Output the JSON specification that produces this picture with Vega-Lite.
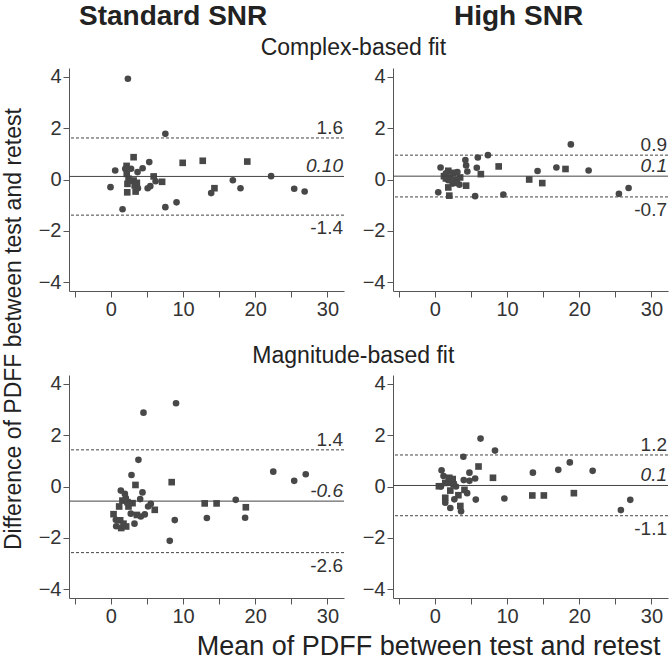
{
  "$schema": "https://vega.github.io/schema/vega-lite/v6.json",
  "background": "white",
  "padding": {"left": 3, "top": 2, "right": 2, "bottom": 0},
  "config": {
    "font": "Liberation Sans",
    "view": {"stroke": null},
    "axis": {"grid": false, "title": null, "labelFontSize": 20, "labelColor": "#333", "labelFont": "Liberation Sans", "tickColor": "#555", "domainColor": "#555", "tickSize": 6, "labelPadding": 2, "labelOverlap": false, "labelFlush": false},
    "title": {"color": "#222", "font": "Liberation Sans", "fontWeight": "normal"}
  },
  "datasets": {
    "pts": [
      {"p":"TL","s":"c","m":2.36,"d":3.93},{"p":"TL","s":"c","m":7.55,"d":1.78},{"p":"TL","s":"s","m":3.15,"d":0.87},{"p":"TL","s":"c","m":5.32,"d":0.68},{"p":"TL","s":"s","m":9.95,"d":0.65},{"p":"TL","s":"s","m":12.73,"d":0.73},{"p":"TL","s":"s","m":18.9,"d":0.70},{"p":"TL","s":"c","m":0.6,"d":0.35},{"p":"TL","s":"s","m":2.18,"d":0.53},{"p":"TL","s":"c","m":2.0,"d":0.42},{"p":"TL","s":"c","m":2.8,"d":0.42},{"p":"TL","s":"c","m":4.4,"d":0.44},{"p":"TL","s":"c","m":3.7,"d":0.29},{"p":"TL","s":"s","m":2.2,"d":0.22},{"p":"TL","s":"s","m":5.93,"d":0.12},{"p":"TL","s":"c","m":22.2,"d":0.13},{"p":"TL","s":"c","m":16.9,"d":-0.03},{"p":"TL","s":"s","m":7.1,"d":-0.09},{"p":"TL","s":"c","m":6.2,"d":-0.07},{"p":"TL","s":"s","m":2.45,"d":0.03},{"p":"TL","s":"s","m":3.15,"d":-0.04},{"p":"TL","s":"s","m":3.6,"d":-0.13},{"p":"TL","s":"s","m":2.3,"d":-0.17},{"p":"TL","s":"c","m":-0.05,"d":-0.30},{"p":"TL","s":"c","m":3.75,"d":-0.34},{"p":"TL","s":"c","m":5.1,"d":-0.34},{"p":"TL","s":"c","m":5.46,"d":-0.26},{"p":"TL","s":"s","m":14.35,"d":-0.34},{"p":"TL","s":"c","m":17.96,"d":-0.34},{"p":"TL","s":"c","m":25.4,"d":-0.36},{"p":"TL","s":"c","m":26.85,"d":-0.47},{"p":"TL","s":"c","m":13.9,"d":-0.53},{"p":"TL","s":"s","m":2.27,"d":-0.50},{"p":"TL","s":"s","m":3.43,"d":-0.47},{"p":"TL","s":"c","m":9.1,"d":-0.89},{"p":"TL","s":"c","m":7.55,"d":-1.08},{"p":"TL","s":"c","m":1.62,"d":-1.16},{"p":"TL","s":"s","m":3.3,"d":-0.23},{"p":"TL","s":"c","m":2.7,"d":-0.04},
      {"p":"TR","s":"c","m":18.84,"d":1.37},{"p":"TR","s":"c","m":7.35,"d":0.95},{"p":"TR","s":"c","m":5.95,"d":0.86},{"p":"TR","s":"c","m":4.23,"d":0.76},{"p":"TR","s":"c","m":4.33,"d":0.55},{"p":"TR","s":"c","m":4.5,"d":0.31},{"p":"TR","s":"c","m":5.81,"d":0.46},{"p":"TR","s":"s","m":6.37,"d":0.21},{"p":"TR","s":"s","m":8.84,"d":0.51},{"p":"TR","s":"c","m":14.23,"d":0.33},{"p":"TR","s":"c","m":16.84,"d":0.47},{"p":"TR","s":"s","m":18.1,"d":0.41},{"p":"TR","s":"c","m":21.3,"d":0.35},{"p":"TR","s":"s","m":13.07,"d":0.0},{"p":"TR","s":"s","m":14.88,"d":-0.14},{"p":"TR","s":"c","m":0.79,"d":0.47},{"p":"TR","s":"c","m":0.47,"d":-0.50},{"p":"TR","s":"s","m":1.86,"d":-0.31},{"p":"TR","s":"s","m":2.0,"d":-0.63},{"p":"TR","s":"c","m":5.58,"d":-0.65},{"p":"TR","s":"c","m":9.49,"d":-0.59},{"p":"TR","s":"c","m":25.5,"d":-0.56},{"p":"TR","s":"c","m":26.84,"d":-0.33},{"p":"TR","s":"s","m":4.33,"d":-0.24},{"p":"TR","s":"s","m":1.26,"d":0.13},{"p":"TR","s":"s","m":1.86,"d":0.34},{"p":"TR","s":"c","m":1.53,"d":0.24},{"p":"TR","s":"s","m":2.56,"d":0.26},{"p":"TR","s":"c","m":3.12,"d":0.29},{"p":"TR","s":"s","m":2.1,"d":0.08},{"p":"TR","s":"c","m":2.8,"d":0.0},{"p":"TR","s":"s","m":3.5,"d":0.08},{"p":"TR","s":"c","m":1.86,"d":-0.03},{"p":"TR","s":"s","m":3.02,"d":-0.13},{"p":"TR","s":"c","m":3.4,"d":-0.2},{"p":"TR","s":"c","m":2.47,"d":-0.16},{"p":"TR","s":"s","m":1.53,"d":0.04},
      {"p":"BL","s":"c","m":9.03,"d":3.25},{"p":"BL","s":"c","m":4.52,"d":2.88},{"p":"BL","s":"c","m":3.82,"d":1.04},{"p":"BL","s":"c","m":2.86,"d":0.45},{"p":"BL","s":"s","m":3.41,"d":0.06},{"p":"BL","s":"s","m":8.43,"d":0.17},{"p":"BL","s":"c","m":22.5,"d":0.58},{"p":"BL","s":"c","m":25.4,"d":0.22},{"p":"BL","s":"c","m":27.0,"d":0.48},{"p":"BL","s":"c","m":1.38,"d":-0.16},{"p":"BL","s":"c","m":1.94,"d":-0.29},{"p":"BL","s":"c","m":4.38,"d":-0.23},{"p":"BL","s":"c","m":4.06,"d":-0.49},{"p":"BL","s":"c","m":17.3,"d":-0.52},{"p":"BL","s":"s","m":13.0,"d":-0.66},{"p":"BL","s":"s","m":14.65,"d":-0.66},{"p":"BL","s":"s","m":18.7,"d":-0.81},{"p":"BL","s":"c","m":5.53,"d":-0.68},{"p":"BL","s":"c","m":5.16,"d":-0.78},{"p":"BL","s":"s","m":6.08,"d":-0.91},{"p":"BL","s":"s","m":3.0,"d":-0.65},{"p":"BL","s":"s","m":2.44,"d":-0.78},{"p":"BL","s":"s","m":1.15,"d":-0.78},{"p":"BL","s":"s","m":1.6,"d":-0.55},{"p":"BL","s":"s","m":2.3,"d":-0.61},{"p":"BL","s":"c","m":2.07,"d":-0.45},{"p":"BL","s":"s","m":0.37,"d":-1.08},{"p":"BL","s":"s","m":3.6,"d":-1.11},{"p":"BL","s":"c","m":4.15,"d":-1.17},{"p":"BL","s":"c","m":4.7,"d":-1.09},{"p":"BL","s":"c","m":0.69,"d":-1.3},{"p":"BL","s":"s","m":1.29,"d":-1.32},{"p":"BL","s":"c","m":0.74,"d":-1.55},{"p":"BL","s":"s","m":1.43,"d":-1.62},{"p":"BL","s":"s","m":2.12,"d":-1.56},{"p":"BL","s":"c","m":3.27,"d":-1.45},{"p":"BL","s":"c","m":8.85,"d":-1.31},{"p":"BL","s":"c","m":13.3,"d":-1.23},{"p":"BL","s":"c","m":18.6,"d":-1.22},{"p":"BL","s":"c","m":8.16,"d":-2.12},{"p":"BL","s":"s","m":1.75,"d":-1.45},{"p":"BL","s":"c","m":2.76,"d":-1.06},
      {"p":"BR","s":"c","m":6.33,"d":1.87},{"p":"BR","s":"c","m":8.33,"d":1.40},{"p":"BR","s":"c","m":3.95,"d":1.16},{"p":"BR","s":"s","m":6.05,"d":0.78},{"p":"BR","s":"c","m":4.79,"d":0.54},{"p":"BR","s":"s","m":8.05,"d":0.34},{"p":"BR","s":"c","m":5.58,"d":0.31},{"p":"BR","s":"c","m":4.79,"d":0.22},{"p":"BR","s":"c","m":4.0,"d":0.25},{"p":"BR","s":"c","m":13.58,"d":0.54},{"p":"BR","s":"c","m":17.1,"d":0.65},{"p":"BR","s":"c","m":18.7,"d":0.94},{"p":"BR","s":"c","m":21.86,"d":0.61},{"p":"BR","s":"c","m":0.93,"d":0.63},{"p":"BR","s":"c","m":1.2,"d":0.41},{"p":"BR","s":"s","m":0.56,"d":0.01},{"p":"BR","s":"s","m":1.44,"d":0.14},{"p":"BR","s":"s","m":1.9,"d":0.17},{"p":"BR","s":"s","m":2.47,"d":0.29},{"p":"BR","s":"s","m":2.6,"d":0.08},{"p":"BR","s":"c","m":2.93,"d":0.0},{"p":"BR","s":"s","m":2.14,"d":-0.16},{"p":"BR","s":"s","m":3.26,"d":-0.34},{"p":"BR","s":"c","m":2.7,"d":-0.5},{"p":"BR","s":"s","m":1.44,"d":-0.44},{"p":"BR","s":"c","m":1.44,"d":-0.63},{"p":"BR","s":"c","m":2.14,"d":-0.84},{"p":"BR","s":"s","m":3.53,"d":-0.76},{"p":"BR","s":"c","m":3.63,"d":-0.97},{"p":"BR","s":"s","m":4.1,"d":-0.13},{"p":"BR","s":"c","m":4.47,"d":-0.26},{"p":"BR","s":"c","m":5.67,"d":-0.51},{"p":"BR","s":"c","m":9.63,"d":-0.47},{"p":"BR","s":"s","m":13.5,"d":-0.35},{"p":"BR","s":"s","m":15.1,"d":-0.35},{"p":"BR","s":"s","m":19.26,"d":-0.26},{"p":"BR","s":"c","m":25.77,"d":-0.92},{"p":"BR","s":"c","m":27.07,"d":-0.52},{"p":"BR","s":"s","m":2.0,"d":0.34},{"p":"BR","s":"c","m":0.84,"d":0.0}
    ],
    "lines": [
      {"p":"TL","k":"upper","d":1.62,"lab":"1.6"},{"p":"TL","k":"mean","d":0.12,"lab":"0.10"},{"p":"TL","k":"lower","d":-1.39,"lab":"-1.4"},
      {"p":"TR","k":"upper","d":0.95,"lab":"0.9"},{"p":"TR","k":"mean","d":0.13,"lab":"0.1"},{"p":"TR","k":"lower","d":-0.68,"lab":"-0.7"},
      {"p":"BL","k":"upper","d":1.43,"lab":"1.4"},{"p":"BL","k":"mean","d":-0.57,"lab":"-0.6"},{"p":"BL","k":"lower","d":-2.58,"lab":"-2.6"},
      {"p":"BR","k":"upper","d":1.23,"lab":"1.2"},{"p":"BR","k":"mean","d":0.04,"lab":"0.1"},{"p":"BR","k":"lower","d":-1.14,"lab":"-1.1"}
    ]
  },
  "title": {"text": "Difference of PDFF between test and retest", "orient": "left", "fontSize": 23, "offset": 12, "dx": 110},
  "spacing": 25,
  "vconcat": [
    {
      "title": {"text": "Complex-based fit", "fontSize": 23, "offset": -57, "anchor": "middle"},
      "spacing": 17,
      "hconcat": [
        {
          "width": 275, "height": 223,
          "title": {"text": "Standard SNR", "anchor": "start", "frame": "group", "dx": 10, "offset": 36, "fontSize": 28, "fontWeight": "bold"},
          "layer": [
            {"data": {"name": "pts"}, "transform": [{"filter": "datum.p === 'TL'"}], "mark": {"type": "point", "filled": true, "opacity": 1, "size": 44, "color": "#484848"},
             "encoding": {"x": {"field": "m", "type": "quantitative", "scale": {"domain": [-5.8, 32.3], "nice": false, "zero": false}, "axis": {"values": [-5,0,5,10,15,20,25,30], "labelExpr": "datum.value % 10 === 0 ? datum.label : ''"}},
                          "y": {"field": "d", "type": "quantitative", "scale": {"domain": [-4.35, 4.35], "nice": false, "zero": false}, "axis": {"values": [-4,-3,-2,-1,0,1,2,3,4], "labelExpr": "datum.value % 2 === 0 ? datum.label : ''"}},
                          "shape": {"field": "s", "type": "nominal", "scale": {"domain": ["c","s"], "range": ["circle","square"]}, "legend": null}}},
            {"data": {"name": "lines"}, "transform": [{"filter": "datum.p === 'TL'"}], "mark": {"type": "rule", "color": "#444", "strokeWidth": 1},
             "encoding": {"y": {"field": "d", "type": "quantitative"}, "strokeDash": {"field": "k", "type": "nominal", "scale": {"domain": ["lower","mean","upper"], "range": [[3,2],[1,0],[3,2]]}, "legend": null}}},
            {"data": {"name": "lines"}, "transform": [{"filter": "datum.p === 'TL' && datum.k === 'upper'"}], "mark": {"type": "text", "align": "right", "baseline": "alphabetic", "dx": -1, "dy": -4, "fontSize": 19, "color": "#333"},
             "encoding": {"x": {"value": "width"}, "y": {"field": "d", "type": "quantitative"}, "text": {"field": "lab"}}},
            {"data": {"name": "lines"}, "transform": [{"filter": "datum.p === 'TL' && datum.k === 'mean'"}], "mark": {"type": "text", "align": "right", "baseline": "alphabetic", "dx": -1, "dy": -4, "fontSize": 19, "fontStyle": "italic", "color": "#333"},
             "encoding": {"x": {"value": "width"}, "y": {"field": "d", "type": "quantitative"}, "text": {"field": "lab"}}},
            {"data": {"name": "lines"}, "transform": [{"filter": "datum.p === 'TL' && datum.k === 'lower'"}], "mark": {"type": "text", "align": "right", "baseline": "top", "dx": -1, "dy": 4, "fontSize": 19, "color": "#333"},
             "encoding": {"x": {"value": "width"}, "y": {"field": "d", "type": "quantitative"}, "text": {"field": "lab"}}}
          ]
        },
        {
          "width": 275, "height": 223,
          "title": {"text": "High SNR", "anchor": "start", "frame": "group", "dx": 61, "offset": 36, "fontSize": 28, "fontWeight": "bold"},
          "layer": [
            {"data": {"name": "pts"}, "transform": [{"filter": "datum.p === 'TR'"}], "mark": {"type": "point", "filled": true, "opacity": 1, "size": 44, "color": "#484848"},
             "encoding": {"x": {"field": "m", "type": "quantitative", "scale": {"domain": [-5.8, 32.3], "nice": false, "zero": false}, "axis": {"values": [-5,0,5,10,15,20,25,30], "labelExpr": "datum.value % 10 === 0 ? datum.label : ''"}},
                          "y": {"field": "d", "type": "quantitative", "scale": {"domain": [-4.35, 4.35], "nice": false, "zero": false}, "axis": {"values": [-4,-3,-2,-1,0,1,2,3,4], "labelExpr": "datum.value % 2 === 0 ? datum.label : ''"}},
                          "shape": {"field": "s", "type": "nominal", "scale": {"domain": ["c","s"], "range": ["circle","square"]}, "legend": null}}},
            {"data": {"name": "lines"}, "transform": [{"filter": "datum.p === 'TR'"}], "mark": {"type": "rule", "color": "#444", "strokeWidth": 1},
             "encoding": {"y": {"field": "d", "type": "quantitative"}, "strokeDash": {"field": "k", "type": "nominal", "scale": {"domain": ["lower","mean","upper"], "range": [[3,2],[1,0],[3,2]]}, "legend": null}}},
            {"data": {"name": "lines"}, "transform": [{"filter": "datum.p === 'TR' && datum.k === 'upper'"}], "mark": {"type": "text", "align": "right", "baseline": "alphabetic", "dx": -1, "dy": -4, "fontSize": 19, "color": "#333"},
             "encoding": {"x": {"value": "width"}, "y": {"field": "d", "type": "quantitative"}, "text": {"field": "lab"}}},
            {"data": {"name": "lines"}, "transform": [{"filter": "datum.p === 'TR' && datum.k === 'mean'"}], "mark": {"type": "text", "align": "right", "baseline": "alphabetic", "dx": -1, "dy": -4, "fontSize": 19, "fontStyle": "italic", "color": "#333"},
             "encoding": {"x": {"value": "width"}, "y": {"field": "d", "type": "quantitative"}, "text": {"field": "lab"}}},
            {"data": {"name": "lines"}, "transform": [{"filter": "datum.p === 'TR' && datum.k === 'lower'"}], "mark": {"type": "text", "align": "right", "baseline": "top", "dx": -1, "dy": 4, "fontSize": 19, "color": "#333"},
             "encoding": {"x": {"value": "width"}, "y": {"field": "d", "type": "quantitative"}, "text": {"field": "lab"}}}
          ]
        }
      ]
    },
    {
      "title": {"text": "Mean of PDFF between test and retest", "orient": "bottom", "anchor": "end", "frame": "bounds", "dx": -8, "fontSize": 27, "offset": 8},
      "vconcat": [
        {
          "title": {"text": "Magnitude-based fit", "fontSize": 23, "offset": 6, "anchor": "middle"},
          "spacing": 17,
          "hconcat": [
            {
              "width": 275, "height": 223,
              "layer": [
                {"data": {"name": "pts"}, "transform": [{"filter": "datum.p === 'BL'"}], "mark": {"type": "point", "filled": true, "opacity": 1, "size": 44, "color": "#484848"},
                 "encoding": {"x": {"field": "m", "type": "quantitative", "scale": {"domain": [-5.8, 32.3], "nice": false, "zero": false}, "axis": {"values": [-5,0,5,10,15,20,25,30], "labelExpr": "datum.value % 10 === 0 ? datum.label : ''"}},
                              "y": {"field": "d", "type": "quantitative", "scale": {"domain": [-4.35, 4.35], "nice": false, "zero": false}, "axis": {"values": [-4,-3,-2,-1,0,1,2,3,4], "labelExpr": "datum.value % 2 === 0 ? datum.label : ''"}},
                              "shape": {"field": "s", "type": "nominal", "scale": {"domain": ["c","s"], "range": ["circle","square"]}, "legend": null}}},
                {"data": {"name": "lines"}, "transform": [{"filter": "datum.p === 'BL'"}], "mark": {"type": "rule", "color": "#444", "strokeWidth": 1},
                 "encoding": {"y": {"field": "d", "type": "quantitative"}, "strokeDash": {"field": "k", "type": "nominal", "scale": {"domain": ["lower","mean","upper"], "range": [[3,2],[1,0],[3,2]]}, "legend": null}}},
                {"data": {"name": "lines"}, "transform": [{"filter": "datum.p === 'BL' && datum.k === 'upper'"}], "mark": {"type": "text", "align": "right", "baseline": "alphabetic", "dx": -1, "dy": -4, "fontSize": 19, "color": "#333"},
                 "encoding": {"x": {"value": "width"}, "y": {"field": "d", "type": "quantitative"}, "text": {"field": "lab"}}},
                {"data": {"name": "lines"}, "transform": [{"filter": "datum.p === 'BL' && datum.k === 'mean'"}], "mark": {"type": "text", "align": "right", "baseline": "alphabetic", "dx": -1, "dy": -4, "fontSize": 19, "fontStyle": "italic", "color": "#333"},
                 "encoding": {"x": {"value": "width"}, "y": {"field": "d", "type": "quantitative"}, "text": {"field": "lab"}}},
                {"data": {"name": "lines"}, "transform": [{"filter": "datum.p === 'BL' && datum.k === 'lower'"}], "mark": {"type": "text", "align": "right", "baseline": "top", "dx": -1, "dy": 4, "fontSize": 19, "color": "#333"},
                 "encoding": {"x": {"value": "width"}, "y": {"field": "d", "type": "quantitative"}, "text": {"field": "lab"}}}
              ]
            },
            {
              "width": 275, "height": 223,
              "layer": [
                {"data": {"name": "pts"}, "transform": [{"filter": "datum.p === 'BR'"}], "mark": {"type": "point", "filled": true, "opacity": 1, "size": 44, "color": "#484848"},
                 "encoding": {"x": {"field": "m", "type": "quantitative", "scale": {"domain": [-5.8, 32.3], "nice": false, "zero": false}, "axis": {"values": [-5,0,5,10,15,20,25,30], "labelExpr": "datum.value % 10 === 0 ? datum.label : ''"}},
                              "y": {"field": "d", "type": "quantitative", "scale": {"domain": [-4.35, 4.35], "nice": false, "zero": false}, "axis": {"values": [-4,-3,-2,-1,0,1,2,3,4], "labelExpr": "datum.value % 2 === 0 ? datum.label : ''"}},
                              "shape": {"field": "s", "type": "nominal", "scale": {"domain": ["c","s"], "range": ["circle","square"]}, "legend": null}}},
                {"data": {"name": "lines"}, "transform": [{"filter": "datum.p === 'BR'"}], "mark": {"type": "rule", "color": "#444", "strokeWidth": 1},
                 "encoding": {"y": {"field": "d", "type": "quantitative"}, "strokeDash": {"field": "k", "type": "nominal", "scale": {"domain": ["lower","mean","upper"], "range": [[3,2],[1,0],[3,2]]}, "legend": null}}},
                {"data": {"name": "lines"}, "transform": [{"filter": "datum.p === 'BR' && datum.k === 'upper'"}], "mark": {"type": "text", "align": "right", "baseline": "alphabetic", "dx": -1, "dy": -4, "fontSize": 19, "color": "#333"},
                 "encoding": {"x": {"value": "width"}, "y": {"field": "d", "type": "quantitative"}, "text": {"field": "lab"}}},
                {"data": {"name": "lines"}, "transform": [{"filter": "datum.p === 'BR' && datum.k === 'mean'"}], "mark": {"type": "text", "align": "right", "baseline": "alphabetic", "dx": -1, "dy": -4, "fontSize": 19, "fontStyle": "italic", "color": "#333"},
                 "encoding": {"x": {"value": "width"}, "y": {"field": "d", "type": "quantitative"}, "text": {"field": "lab"}}},
                {"data": {"name": "lines"}, "transform": [{"filter": "datum.p === 'BR' && datum.k === 'lower'"}], "mark": {"type": "text", "align": "right", "baseline": "top", "dx": -1, "dy": 4, "fontSize": 19, "color": "#333"},
                 "encoding": {"x": {"value": "width"}, "y": {"field": "d", "type": "quantitative"}, "text": {"field": "lab"}}}
              ]
            }
          ]
        }
      ]
    }
  ]
}
